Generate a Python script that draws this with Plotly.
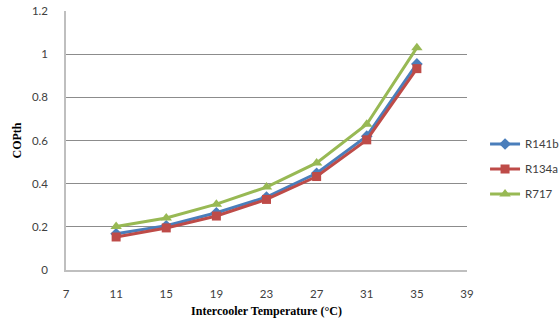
import plotly.graph_objects as go

temps = [11, 15, 19, 23, 27, 31, 35]
r141b = [0.168, 0.205, 0.265, 0.338, 0.448, 0.620, 0.955]
r134a = [0.153, 0.195, 0.250, 0.327, 0.433, 0.603, 0.933]
r717 = [0.202, 0.241, 0.305, 0.384, 0.496, 0.675, 1.030]

series = [
    ("R141b", r141b, "#4A7EBB", "diamond", 9),
    ("R134a", r134a, "#BE4B48", "square", 9),
    ("R717", r717, "#98B954", "triangle-up", 10),
]

fig = go.Figure()
for name, vals, color, sym, size in series:
    fig.add_trace(go.Scatter(
        x=temps, y=vals, name=name, mode="lines+markers",
        legendgroup=name,
        line=dict(color=color, width=3),
        marker=dict(symbol=sym, size=size, color=color),
    ))

fig.update_layout(
    width=560, height=332,
    margin=dict(l=66, r=93, t=11, b=62, autoexpand=False),
    paper_bgcolor="white", plot_bgcolor="white",
    font=dict(family="Lato, Open Sans, sans-serif", size=11.5, color="#404040"),
    legend=dict(x=1.045, y=0.39, xanchor="left", yanchor="middle",
                font=dict(size=11.5, color="#404040"), tracegroupgap=6,
                traceorder="grouped", itemwidth=30),
    showlegend=True,
)
fig.update_xaxes(
    range=[7, 39], tickmode="linear", tick0=7, dtick=4,
    showgrid=False, showline=True, linecolor="#BFBFBF", linewidth=1.5,
    ticks="outside", ticklen=12, tickcolor="rgba(0,0,0,0)",
    zeroline=False,
    title=dict(text="<b>Intercooler Temperature (°C)</b>",
               font=dict(family="Liberation Serif, Times New Roman, serif", size=12, color="#000000"),
               standoff=8),
)
fig.update_yaxes(
    range=[0, 1.2], tickmode="linear", tick0=0, dtick=0.2,
    showgrid=True, gridcolor="#8C8C8C", gridwidth=1,
    showline=True, linecolor="#BFBFBF", linewidth=1.5,
    ticks="outside", ticklen=14, tickcolor="rgba(0,0,0,0)",
    zeroline=False,
    title=dict(text="<b>COPth</b>",
               font=dict(family="Liberation Serif, Times New Roman, serif", size=12, color="#000000"),
               standoff=8),
)

fig.write_html("out.html")
